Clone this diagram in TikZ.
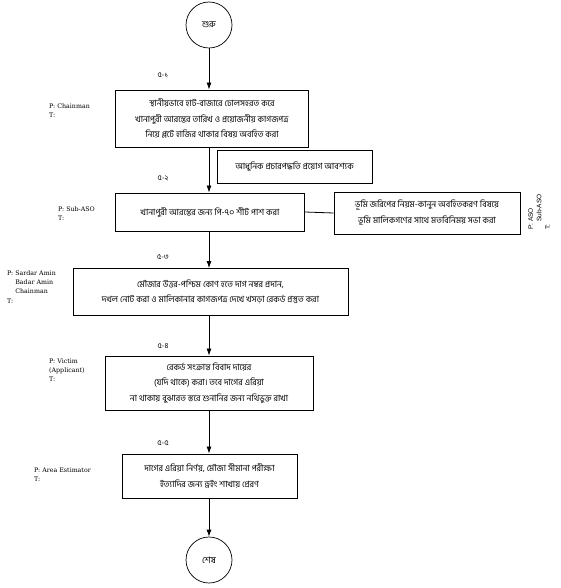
\documentclass[tikz,border=0pt]{standalone}
\usepackage{fontspec}
\setmainfont{DejaVu Serif}
\newfontfamily\bnfont[Script=Bengali]{Hind Siliguri}
\newfontfamily\rotfont{Liberation Sans}
\usetikzlibrary{arrows.meta}

\tikzset{
  paso/.style={draw, line width=0.9pt, align=center, inner sep=2pt,
    font=\bnfont\fontsize{8.6}{15.5}\selectfont},
  terminal/.style={draw, circle, line width=0.7pt, minimum size=46pt, inner sep=0pt,
    font=\bnfont\fontsize{9}{10}\selectfont},
  flecha/.style={-{Latex[length=7pt,width=5pt]}, line width=0.8pt},
  numpaso/.style={font=\bnfont\fontsize{7.5}{8}\selectfont},
  rol/.style={align=left, anchor=north west, inner sep=0pt,
    font=\fontsize{6.3}{9.2}\selectfont}
}

\begin{document}
\begin{tikzpicture}[x=1pt,y=-1pt]

\useasboundingbox (0,0) rectangle (560,588);

\node[terminal] (inicio) at (209,25) {শুরু};

\node[paso, minimum width=193pt, minimum height=57pt] (p1) at (212,118.5)
  {স্থানীয়ভাবে হাট-বাজারে ঢোলসহরত করে\\
   খানাপুরী আরম্ভের তারিখ ও প্রয়োজনীয় কাগজপত্র\\
   নিয়ে প্লটে হাজির থাকার বিষয় অবহিত করা};
\node[paso, minimum width=155pt, minimum height=33pt] (nota) at (294.5,166.5)
  {আধুনিক প্রচারপদ্ধতি প্রয়োগ আবশ্যক}; % nota suelta

\node[paso, minimum width=189pt, minimum height=38pt] (p2) at (210,212)
  {খানাপুরী আরম্ভের জন্য পি-৭০ শীট পাশ করা};
\node[paso, minimum width=186pt, minimum height=42pt] (p2b) at (427,213)
  {ভূমি জরিপের নিয়ম-কানুন অবহিতকরণ বিষয়ে\\
   ভূমি মালিকগণের সাথে মতবিনিময় সভা করা};

\node[paso, minimum width=275pt, minimum height=47pt] (p3) at (210.5,292)
  {মৌজার উত্তর-পশ্চিম কোণ হতে দাগ নম্বর প্রদান,\\
   দখল নোট করা ও মালিকানার কাগজপত্র দেখে খসড়া রেকর্ড প্রস্তুত করা};

\node[paso, minimum width=208pt, minimum height=54pt] (p4) at (209,383)
  {রেকর্ড সংক্রান্ত বিবাদ দায়ের\\
   (যদি থাকে) করা। তবে দাগের এরিয়া\\
   না থাকায় বুঝারত স্তরে শুনানির জন্য নথিভুক্ত রাখা};

\node[paso, minimum width=175pt, minimum height=44pt] (p5) at (209.5,476)
  {দাগের এরিয়া নির্ণয়, মৌজা সীমানা পরীক্ষা\\
   ইত্যাদির জন্য ড্রইং শাখায় প্রেরণ};

\node[terminal] (fin) at (209,560) {শেষ};

% flechas del eje
\draw[flecha] (inicio.south) -- (inicio.south |- p1.north);
\draw[flecha] (p1.south -| inicio) -- (inicio |- p2.north);
\draw[flecha] (p2.south -| inicio) -- (inicio |- p3.north);
\draw[flecha] (p3.south -| inicio) -- (inicio |- p4.north);
\draw[flecha] (p4.south -| inicio) -- (inicio |- p5.north);
\draw[flecha] (p5.south -| inicio) -- (fin.north);
\draw[line width=0.8pt] (p2.east) -- (p2b.west);

% numeros de paso
\node[numpaso] (n1) at (163,75) {৫-১};
\node[numpaso] (n2) at (163,178) {৫-২};
\node[numpaso] (n3) at (163,257) {৫-৩};
\node[numpaso] (n4) at (163,346) {৫-৪};
\node[numpaso] (n5) at (163,443) {৫-৫};

% responsables
\node[rol] (r1) at (49,103.5) {P: Chainman\\T:};
\node[rol] (r2) at (58,206.5) {P: Sub-ASO\\T:};
\node[rol] (r3) at (7,270.5) {P: Sardar Amin\\\hphantom{P: }Badar Amin\\\hphantom{P: }Chainman\\T:};
\node[rol] (r4) at (49,358.5) {P: Victim\\(Applicant)\\T:};
\node[rol] (r5) at (34,467.5) {P: Area Estimator\\T:};
\node[rol, anchor=center, rotate=90, font=\rotfont\fontsize{6.5}{8.5}\selectfont] (r2b) at (539,212)
  {P: ASO\\\hphantom{P: }Sub-ASO\\T:};

\end{tikzpicture}
\end{document}
